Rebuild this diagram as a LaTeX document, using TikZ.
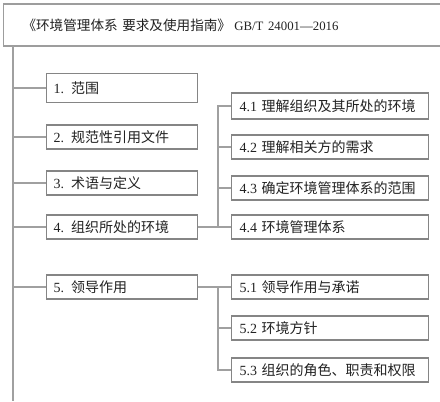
\documentclass[tikz,border=0pt]{standalone}
\usepackage{fontspec}
\setmainfont{Liberation Serif}
\newfontfamily\cjk{Noto Sans CJK SC}
\definecolor{boxgray}{HTML}{858585}
\definecolor{linegray}{HTML}{A0A0A0}
\definecolor{txt}{HTML}{222222}
\begin{document}
\begin{tikzpicture}[x=0.75pt,y=-0.75pt,
  basebox/.style={draw=boxgray, line width=0.8pt, fill=white, text=txt, align=left, anchor=west, inner ysep=0pt},
  lbox/.style={basebox, inner xsep=5.25pt, text width=102.75pt, minimum height=18pt, font=\fontsize{10.5}{12}\selectfont},
  rbox/.style={basebox, inner xsep=6pt, text width=135.75pt, minimum height=18pt, font=\fontsize{10.5}{12}\selectfont},
  titlebox/.style={basebox, draw=boxgray!80, inner xsep=14.25pt, text width=303.75pt, minimum height=31.5pt, font=\fontsize{10.2}{12}\selectfont},
  conn/.style={draw=linegray, line width=0.8pt}]
\useasboundingbox (0,0) rectangle (440,401);
% title
\node[titlebox] (title) at (3,25) {\mbox{{\cjk 《环境管理体系 要求及使用指南》}\hspace{2.5pt}{\fontsize{9.6}{12}\selectfont GB/T 24001—2016}}};
% trunk
\coordinate (trunkTop) at (13,46);
\coordinate (trunkBot) at (13,401);
\draw[conn] (trunkTop) -- (trunkBot);
% left boxes
\node[lbox, minimum height=21.75pt] (b1) at (46,88) {\mbox{1. {\cjk 范围}}};
\node[lbox] (b2) at (46,137) {\mbox{2. {\cjk 规范性引用文件}}};
\node[lbox] (b3) at (46,183) {\mbox{3. {\cjk 术语与定义}}};
\node[lbox] (b4) at (46,227) {\mbox{4. {\cjk 组织所处的环境}}};
\node[lbox] (b5) at (46,287) {\mbox{5. {\cjk 领导作用}}};
% right boxes
\node[rbox, minimum height=19.5pt] (r41) at (231,106) {\mbox{4.1 {\cjk 理解组织及其所处的环境}}};
\node[rbox] (r42) at (231,147) {\mbox{4.2 {\cjk 理解相关方的需求}}};
\node[rbox] (r43) at (231,188) {\mbox{4.3 {\cjk 确定环境管理体系的范围}}};
\node[rbox] (r44) at (231,227) {\mbox{4.4 {\cjk 环境管理体系}}};
\node[rbox] (r51) at (231,287) {\mbox{5.1 {\cjk 领导作用与承诺}}};
\node[rbox] (r52) at (231,328) {\mbox{5.2 {\cjk 环境方针}}};
\node[rbox] (r53) at (231,370) {\mbox{5.3 {\cjk 组织的角色、职责和权限}}};
% trunk stubs
\foreach \b in {b1,b2,b3,b4,b5}
  \draw[conn] (\b.west -| trunkTop) -- (\b.west);
% branch 4
\coordinate (br) at (218,0);
\draw[conn] (b4.east) -- (r44.west);
\draw[conn] (r41.west) -- (r41.west -| br) -- (r44.west -| br);
\draw[conn] (r42.west -| br) -- (r42.west);
\draw[conn] (r43.west -| br) -- (r43.west);
% branch 5
\draw[conn] (b5.east) -- (r51.west);
\draw[conn] (r51.west -| br) -- (r53.west -| br) -- (r53.west);
\draw[conn] (r52.west -| br) -- (r52.west);
\end{tikzpicture}
\end{document}
